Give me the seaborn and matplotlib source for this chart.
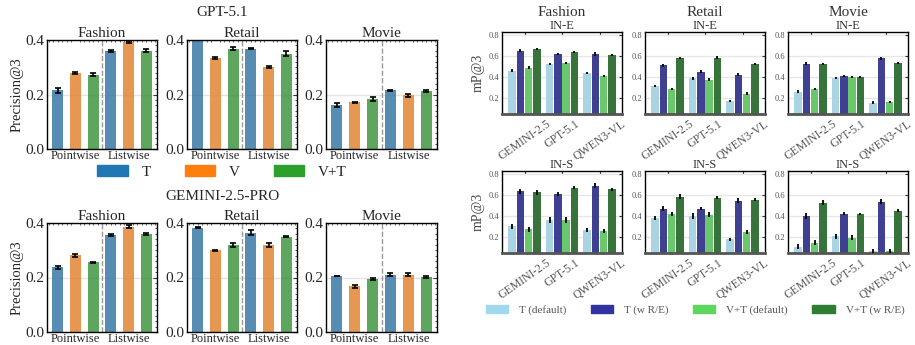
import numpy as np
import pandas as pd
import matplotlib
matplotlib.use("Agg")
import matplotlib.pyplot as plt
import seaborn as sns
from matplotlib.patches import Patch
from matplotlib.ticker import MultipleLocator

sns.set_style("white")
plt.rcParams['font.family'] = ['Liberation Serif', 'DejaVu Serif']

# -------------------- Datos: panel izquierdo (Precision@3) --------------------
settings = ['Pointwise', 'Listwise']
modalities = ['T', 'V', 'V+T']
domains = ['Fashion', 'Retail', 'Movie']

gpt_fashion = [[0.215, 0.278, 0.273], [0.361, 0.393, 0.361]]
gpt_fashion_err = [[0.008, 0.004, 0.006], [0.004, 0.004, 0.005]]
gpt_retail = [[0.405, 0.335, 0.368], [0.368, 0.300, 0.350]]
gpt_retail_err = [[0.004, 0.003, 0.006], [0.002, 0.004, 0.008]]
gpt_movie = [[0.160, 0.172, 0.183], [0.215, 0.197, 0.212]]
gpt_movie_err = [[0.007, 0.002, 0.007], [0.002, 0.005, 0.003]]

gem_fashion = [[0.238, 0.282, 0.256], [0.355, 0.387, 0.361]]
gem_fashion_err = [[0.006, 0.005, 0.002], [0.004, 0.007, 0.004]]
gem_retail = [[0.383, 0.300, 0.318], [0.365, 0.318, 0.350]]
gem_retail_err = [[0.002, 0.001, 0.007], [0.008, 0.007, 0.003]]
gem_movie = [[0.206, 0.168, 0.194], [0.210, 0.210, 0.202]]
gem_movie_err = [[0.001, 0.006, 0.005], [0.005, 0.006, 0.002]]

# -------------------- Datos: panel derecho (mP@3) --------------------
models = ['GEMINI-2.5', 'GPT-5.1', 'QWEN3-VL']
variants = ['T (default)', 'T (w R/E)', 'V+T (default)', 'V+T (w R/E)']

# filas = modelo, columnas = variante
ine_fashion = [[0.46, 0.65, 0.49, 0.67], [0.525, 0.62, 0.535, 0.64], [0.44, 0.62, 0.41, 0.61]]
ine_retail = [[0.315, 0.51, 0.285, 0.585], [0.385, 0.45, 0.375, 0.585], [0.17, 0.42, 0.24, 0.525]]
ine_movie = [[0.26, 0.525, 0.285, 0.525], [0.39, 0.41, 0.40, 0.40], [0.155, 0.58, 0.16, 0.535]]
ins_fashion = [[0.30, 0.635, 0.27, 0.625], [0.36, 0.61, 0.36, 0.67], [0.265, 0.69, 0.255, 0.655]]
ins_retail = [[0.38, 0.47, 0.42, 0.585], [0.40, 0.47, 0.41, 0.575], [0.175, 0.547, 0.245, 0.556]]
ins_movie = [[0.105, 0.40, 0.145, 0.528], [0.205, 0.42, 0.19, 0.42], [0.065, 0.537, 0.065, 0.45]]

ine_err = [[0.012, 0.015, 0.012, 0.010], [0.012, 0.012, 0.012, 0.012], [0.010, 0.015, 0.012, 0.010]]
ins_err = [[0.022, 0.025, 0.022, 0.025], [0.025, 0.015, 0.025, 0.012], [0.018, 0.022, 0.018, 0.015]]

# Colores
left_colors = ['#1f77b4', '#ff7f0e', '#2ca02c']
right_colors = ['#a0d8ee', '#3232a0', '#5cd65c', '#2e7d32']

W, H = 915, 345
fig = plt.figure(figsize=(W / 100, H / 100), dpi=100)


def px_axes(x0, x1, y0, y1):
    return fig.add_axes([x0 / W, 1 - y1 / H, (x1 - x0) / W, (y1 - y0) / H])


def add_errs(ax, errs, **kw):
    # barras por nivel de hue; se copia la lista antes de añadir errorbars
    bar_conts = list(ax.containers)
    for j, cont in enumerate(bar_conts):
        for bar in cont.patches:
            xc = bar.get_x() + bar.get_width() / 2
            i = int(round(xc))
            ax.errorbar(xc, bar.get_height(), yerr=errs[i][j], fmt='none', ecolor='black',
                        zorder=5, **kw)


def panel_left(ax, vals, errs, title, ylabel):
    df = pd.DataFrame([(s, m, vals[i][j]) for i, s in enumerate(settings)
                       for j, m in enumerate(modalities)], columns=['setting', 'mod', 'val'])
    sns.barplot(data=df, x='setting', y='val', hue='mod', order=settings, hue_order=modalities,
                palette=left_colors, width=1.0, gap=0.37, alpha=0.82, linewidth=0,
                errorbar=None, legend=False, ax=ax)
    add_errs(ax, errs, elinewidth=1.2, capsize=2.5, capthick=1.2)
    ax.axvline(0.5, color='#999999', ls='--', lw=1)
    ax.set_xlim(-0.533, 1.533)
    ax.set_ylim(0, 0.4)
    ax.set_yticks([0.0, 0.2, 0.4])
    ax.set_yticklabels(['0.0', '0.2', '0.4'])
    ax.yaxis.set_minor_locator(MultipleLocator(0.02))
    ax.xaxis.set_minor_locator(MultipleLocator(1 / 12))
    ax.yaxis.grid(True, color='#e3e3e3', lw=1)
    ax.set_axisbelow(True)
    ax.tick_params(axis='both', which='both', direction='in', top=True, right=True, color='#333333')
    ax.tick_params(axis='y', which='major', labelsize=11, length=3, pad=2)
    ax.tick_params(axis='x', which='major', labelsize=9, length=0, pad=0.5)
    ax.tick_params(which='minor', length=1.5)
    for s in ax.spines.values():
        s.set_color('black')
        s.set_linewidth(1)
    ax.set_xlabel('')
    ax.set_ylabel(ylabel, fontsize=10.5, labelpad=1)
    ax.set_title(title, fontsize=11, pad=2)


def panel_right(ax, vals, errs, title, ylabel):
    df = pd.DataFrame([(m, v, vals[i][j]) for i, m in enumerate(models)
                       for j, v in enumerate(variants)], columns=['model', 'variant', 'val'])
    sns.barplot(data=df, x='model', y='val', hue='variant', order=models, hue_order=variants,
                palette=right_colors, width=0.88, gap=0.07, linewidth=0,
                errorbar=None, legend=False, ax=ax)
    add_errs(ax, errs, elinewidth=1.3, capsize=0)
    ax.set_xlim(-0.6, 2.6)
    ax.set_ylim(0.045, 0.83)
    ax.set_yticks([0.2, 0.4, 0.6, 0.8])
    ax.set_yticklabels(['0.2', '0.4', '0.6', '0.8'])
    ax.yaxis.grid(True, color='#e6e6e6', lw=1)
    ax.set_axisbelow(True)
    ax.tick_params(axis='both', direction='in', top=True, right=True, length=2.5, color='#333333')
    ax.tick_params(axis='y', labelsize=6, labelcolor='#555555', pad=2)
    ax.tick_params(axis='x', labelsize=8.5, labelcolor='#555555', pad=3)
    for lab in ax.get_xticklabels():
        lab.set_rotation(35)
        lab.set_ha('center')
    for s in ax.spines.values():
        s.set_color('black')
        s.set_linewidth(1)
    ax.spines['bottom'].set_color('#555555')
    ax.spines['bottom'].set_linewidth(2)
    ax.set_xlabel('')
    ax.set_ylabel(ylabel, fontsize=10, color='#444444', labelpad=3)
    ax.set_title(title, fontsize=9, color='#333333', pad=2)


# -------------------- Figura izquierda --------------------
left_x = [(47, 157), (187, 297), (326, 437)]
gpt_vals = [gpt_fashion, gpt_retail, gpt_movie]
gpt_errs = [gpt_fashion_err, gpt_retail_err, gpt_movie_err]
gem_vals = [gem_fashion, gem_retail, gem_movie]
gem_errs = [gem_fashion_err, gem_retail_err, gem_movie_err]

for k, (x0, x1) in enumerate(left_x):
    ax = px_axes(x0, x1, 40, 149)
    panel_left(ax, gpt_vals[k], gpt_errs[k], domains[k], 'Precision@3' if k == 0 else '')
    ax = px_axes(x0, x1, 223, 332)
    panel_left(ax, gem_vals[k], gem_errs[k], domains[k], 'Precision@3' if k == 0 else '')

fig.text(222 / W, 1 - 13 / H, 'GPT-5.1', ha='center', va='center', fontsize=11)
fig.text(222 / W, 1 - 196 / H, 'GEMINI-2.5-PRO', ha='center', va='center', fontsize=11)

left_handles = [Patch(color=c, label=m) for c, m in zip(left_colors, modalities)]
fig.legend(handles=left_handles, loc='center', bbox_to_anchor=(222 / W, 1 - 172 / H), ncol=3,
           frameon=False, fontsize=11, handlelength=2.0, handleheight=0.75,
           handletextpad=0.9, columnspacing=2.2)

# -------------------- Figura derecha --------------------
right_x = [(502, 622), (645, 765), (788, 908)]
ine_vals = [ine_fashion, ine_retail, ine_movie]
ins_vals = [ins_fashion, ins_retail, ins_movie]

for k, (x0, x1) in enumerate(right_x):
    ax = px_axes(x0, x1, 32, 114)
    panel_right(ax, ine_vals[k], ine_err, 'IN-E', 'mP@3' if k == 0 else '')
    fig.text((x0 + x1) / 2 / W, 1 - 12 / H, domains[k], ha='center', va='center',
             fontsize=11, color='#333333')
    ax = px_axes(x0, x1, 171, 253)
    panel_right(ax, ins_vals[k], ins_err, 'IN-S', 'mP@3' if k == 0 else '')

right_handles = [Patch(color=c, label=v) for c, v in zip(right_colors, variants)]
leg = fig.legend(handles=right_handles, loc='center', bbox_to_anchor=(695 / W, 1 - 310 / H), ncol=4,
                 frameon=False, fontsize=8, handlelength=2.0, handleheight=0.7,
                 handletextpad=1.0, columnspacing=2.2)
for t in leg.get_texts():
    t.set_color('#555555')

fig.savefig('out.png', dpi=100)
